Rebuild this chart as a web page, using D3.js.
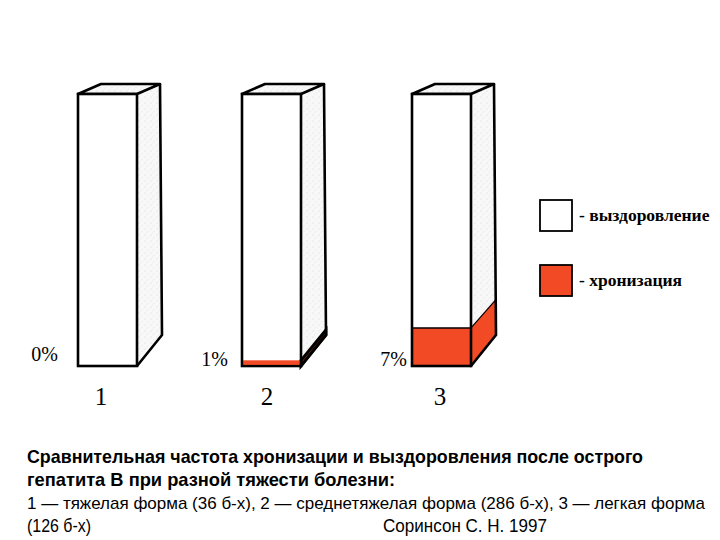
<!DOCTYPE html>
<html><head><meta charset="utf-8">
<script src="https://cdn.jsdelivr.net/npm/d3@7"></script>
<style>body{margin:0;background:#fff}</style>
</head><body>
<svg id="c" width="720" height="540"></svg>
<script>
const categories = ["1", "2", "3"];
const chronicPct = [0, 1, 7];
const recoveryPct = [100, 99, 93];
const pctLabels = ["0%", "1%", "7%"];
const legendLabels = ["- выздоровление", "- хронизация"];
const captionBold = ["Сравнительная частота хронизации и выздоровления после острого", "гепатита В при разной тяжести болезни:"];
const captionLine3 = "1 — тяжелая форма (36 б-х), 2 — среднетяжелая форма (286 б-х), 3 — легкая форма";
const captionLine4a = "(126 б-х)";
const captionLine4b = "Соринсон С. Н. 1997";

// layout (not data)
const barLeft = [78, 242, 412];
const pctGap = [20, 14, 5];
const pctBase = [361, 366, 366];
const numOffset = [23, 25, 28];

const RED = "#f24a25";
const svg = d3.select("#c");
const defs = svg.append("defs");
const pat = defs.append("pattern").attr("id","stip").attr("width",6).attr("height",6).attr("patternUnits","userSpaceOnUse");
pat.append("rect").attr("width",6).attr("height",6).attr("fill","#f8f8f8");
pat.append("circle").attr("cx",1).attr("cy",1).attr("r",0.5).attr("fill","#cccccc");
pat.append("circle").attr("cx",4).attr("cy",3.5).attr("r",0.45).attr("fill","#d6d6d6");
pat.append("circle").attr("cx",2.5).attr("cy",5).attr("r",0.4).attr("fill","#dcdcdc");

const x = d3.scaleOrdinal().domain(categories).range(barLeft);
const frontW = 59;
const yTop = 94, yBot = 366;
// chronic segment drawn with the original's exaggerated scale
const hScale = d3.scaleLinear().domain([0, 50]).range([0, yBot - yTop]);
const backY = d3.scaleLinear().domain([yTop, yBot]).range([84, 335]);
const dxTop = 23, dxBot = 25;
const dxAt = d3.scaleLinear().domain([yTop, yBot]).range([dxTop, dxBot]);

const sw = 2.6;
categories.forEach((c, i) => {
  const g = svg.append("g");
  const L = x(c), R = L + frontW;
  const h = hScale(chronicPct[i]);
  const yR = yBot - h;
  const side = [[R, yTop],[R+dxAt(yTop), backY(yTop)],[R+dxAt(yBot), backY(yBot)],[R, yBot]];
  g.append("path").attr("d", d3.line()(side)+"Z").attr("fill","url(#stip)").attr("stroke","none");
  const top = [[L, yTop],[L+dxTop, backY(yTop)],[R+dxTop, backY(yTop)],[R, yTop]];
  g.append("path").attr("d", d3.line()(top)+"Z").attr("fill","url(#stip)").attr("stroke","#000").attr("stroke-width",sw).attr("stroke-linejoin","round");
  g.append("rect").attr("x",L).attr("y",yTop).attr("width",frontW).attr("height",yBot-yTop).attr("fill","#fff");
  if (h > 0) {
    g.append("rect").attr("x",L).attr("y",yR).attr("width",frontW).attr("height",h).attr("fill",RED);
    const sr = [[R, yR],[R+dxAt(yR), backY(yR)],[R+dxAt(yBot), backY(yBot)],[R, yBot]];
    g.append("path").attr("d", d3.line()(sr)+"Z").attr("fill",RED).attr("stroke","#000").attr("stroke-width", h>10 ? 1.2 : 3);
    if (h > 10) g.append("line").attr("x1",L).attr("x2",R).attr("y1",yR).attr("y2",yR).attr("stroke","#000").attr("stroke-width",1.5);
  }
  g.append("rect").attr("x",L).attr("y",yTop).attr("width",frontW).attr("height",yBot-yTop).attr("fill","none").attr("stroke","#000").attr("stroke-width",sw);
  g.append("path").attr("d", d3.line()([[R+dxTop, backY(yTop)],[R+dxAt(yBot), backY(yBot)],[R, yBot]])).attr("fill","none").attr("stroke","#000").attr("stroke-width",sw).attr("stroke-linejoin","round");
  if (h > 0 && h <= 10) {
    g.append("rect").attr("x",L+1.5).attr("y",yR).attr("width",frontW-3).attr("height",h-1.3).attr("fill",RED);
  }
  svg.append("text").attr("x", L-pctGap[i]).attr("y", pctBase[i]).attr("text-anchor","end")
    .attr("font-family","Liberation Serif, serif").attr("font-size",20).text(pctLabels[i]);
  svg.append("text").attr("x", L+numOffset[i]).attr("y", 405).attr("text-anchor","middle")
    .attr("font-family","Liberation Serif, serif").attr("font-size",25).text(c);
});

const legColors = ["#fff", RED];
const legY = d3.scalePoint().domain([0,1]).range([200, 265]);
legendLabels.forEach((t, i) => {
  svg.append("rect").attr("x",540).attr("y",legY(i)).attr("width",32).attr("height",31)
    .attr("fill",legColors[i]).attr("stroke","#000").attr("stroke-width",1.8);
  svg.append("text").attr("x",579).attr("y",legY(i)+21).attr("font-family","Liberation Serif, serif")
    .attr("font-weight","bold").attr("font-size",17.5).text(t);
});

const capFont = "'Liberation Sans', Arial, sans-serif";
svg.append("text").attr("x",27).attr("y",463).attr("font-family",capFont).attr("font-weight","bold").attr("font-size",18.5)
  .attr("textLength",616).attr("lengthAdjust","spacingAndGlyphs").text(captionBold[0]);
svg.append("text").attr("x",27).attr("y",486).attr("font-family",capFont).attr("font-weight","bold").attr("font-size",18.5)
  .attr("textLength",368).attr("lengthAdjust","spacingAndGlyphs").text(captionBold[1]);
svg.append("text").attr("x",27).attr("y",509).attr("font-family",capFont).attr("font-size",17)
  .attr("textLength",678).attr("lengthAdjust","spacingAndGlyphs").text(captionLine3);
svg.append("text").attr("x",27).attr("y",532).attr("font-family",capFont).attr("font-size",18.5)
  .attr("textLength",64).attr("lengthAdjust","spacingAndGlyphs").text(captionLine4a);
svg.append("text").attr("x",383).attr("y",532).attr("font-family",capFont).attr("font-size",18.5)
  .attr("textLength",164).attr("lengthAdjust","spacingAndGlyphs").text(captionLine4b);
</script>
</body></html>
